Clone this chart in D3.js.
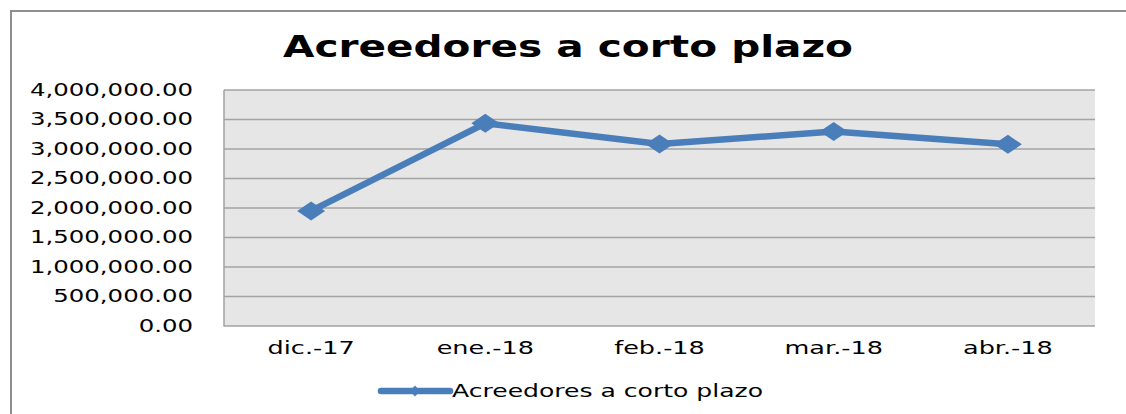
<!DOCTYPE html>
<html>
<head>
<meta charset="utf-8">
<script src="https://cdn.jsdelivr.net/npm/d3@7"></script>
<style>
  html, body { margin: 0; padding: 0; background: #ffffff; }
  svg { display: block; }
  text { font-family: "DejaVu Sans", Verdana, sans-serif; fill: #000; }
</style>
</head>
<body>
<script>
// Monthly balance of short-term creditors
const categories = ["dic.-17", "ene.-18", "feb.-18", "mar.-18", "abr.-18"];
const seriesName = "Acreedores a corto plazo";
const values = [1950000, 3435000, 3085000, 3295000, 3080000];
const yTicks = [0, 500000, 1000000, 1500000, 2000000, 2500000, 3000000, 3500000, 4000000];
const titleText = "Acreedores a corto plazo";

const W = 1126, H = 414;
const plot = { left: 224, right: 1095, top: 90, bottom: 326 };
const blue = "#4a7ebb";

const svg = d3.select("body").append("svg")
  .attr("width", W).attr("height", H);

// outer frame (top and left edges)
svg.append("path")
  .attr("d", `M11,${H} V11 H${W}`)
  .attr("fill", "none")
  .attr("stroke", "#8f8f8f")
  .attr("stroke-width", 2);

const x = d3.scaleBand().domain(categories).range([plot.left, plot.right]).padding(0);
const y = d3.scaleLinear().domain([0, 4000000]).range([plot.bottom, plot.top]);
const cx = d => x(d) + x.bandwidth() / 2;

// plot background
svg.append("rect")
  .attr("x", plot.left).attr("y", plot.top)
  .attr("width", plot.right - plot.left).attr("height", plot.bottom - plot.top)
  .attr("fill", "#e6e6e6");

// horizontal gridlines
svg.append("g").selectAll("line").data(yTicks.filter(t => t > 0)).join("line")
  .attr("x1", plot.left).attr("x2", plot.right)
  .attr("y1", d => y(d)).attr("y2", d => y(d))
  .attr("stroke", "#a3a3a3").attr("stroke-width", 1.5);

// axis lines
svg.append("path")
  .attr("d", `M${plot.left},${plot.top} V${plot.bottom} H${plot.right}`)
  .attr("fill", "none").attr("stroke", "#a3a3a3").attr("stroke-width", 1.5);

// helper: widen a group of labels so that its widest one spans `target` px
function stretchTo(sel, target) {
  let widest = 0;
  sel.each(function () { widest = Math.max(widest, this.getComputedTextLength()); });
  const factor = target / widest;
  sel.each(function () {
    const n = this.getComputedTextLength();
    d3.select(this).attr("textLength", n * factor).attr("lengthAdjust", "spacingAndGlyphs");
  });
}

// y-axis labels
const yAxis = d3.axisLeft(y).tickValues(yTicks).tickFormat(d3.format(",.2f")).tickSize(0).tickPadding(31);
const yg = svg.append("g").attr("transform", `translate(${plot.left},0)`).call(yAxis);
yg.select(".domain").remove();
yg.selectAll("text").attr("font-size", 17).attr("font-family", "DejaVu Sans").attr("fill", "#000");
stretchTo(yg.selectAll("text"), 163);

// x-axis labels
const xAxis = d3.axisBottom(x).tickSize(0).tickPadding(16);
const xg = svg.append("g").attr("transform", `translate(0,${plot.bottom})`).call(xAxis);
xg.select(".domain").remove();
xg.selectAll("text").attr("font-size", 17).attr("font-family", "DejaVu Sans").attr("fill", "#000");
xg.selectAll("text").each(function () {
  const n = this.getComputedTextLength();
  d3.select(this).attr("textLength", n * 1.5).attr("lengthAdjust", "spacingAndGlyphs");
});

// series line
const line = d3.line().x((d, i) => cx(categories[i])).y(d => y(d));
svg.append("path")
  .datum(values)
  .attr("d", line)
  .attr("fill", "none")
  .attr("stroke", blue)
  .attr("stroke-width", 6.5)
  .attr("stroke-linejoin", "round");

// diamond markers
const diamond = (w, h) => `M0,${-h / 2} L${w / 2},0 L0,${h / 2} L${-w / 2},0 Z`;
svg.append("g").selectAll("path").data(values).join("path")
  .attr("transform", (d, i) => `translate(${cx(categories[i])},${y(d)})`)
  .attr("d", diamond(28, 19))
  .attr("fill", blue);

// title
const title = svg.append("text")
  .attr("x", 568).attr("y", 57)
  .attr("text-anchor", "middle")
  .attr("font-family", "DejaVu Sans")
  .attr("font-weight", "bold")
  .attr("font-size", 30)
  .text(titleText);
title.attr("textLength", 570).attr("lengthAdjust", "spacingAndGlyphs");

// legend
const lg = svg.append("g");
lg.append("line")
  .attr("x1", 381).attr("x2", 450).attr("y1", 391).attr("y2", 391)
  .attr("stroke", blue).attr("stroke-width", 6.5).attr("stroke-linecap", "round");
lg.append("path")
  .attr("transform", "translate(415,391)")
  .attr("d", diamond(10, 11))
  .attr("fill", blue);
lg.append("text")
  .attr("x", 452).attr("y", 397)
  .attr("font-size", 17)
  .attr("textLength", 311).attr("lengthAdjust", "spacingAndGlyphs")
  .text(seriesName);
</script>
</body>
</html>
